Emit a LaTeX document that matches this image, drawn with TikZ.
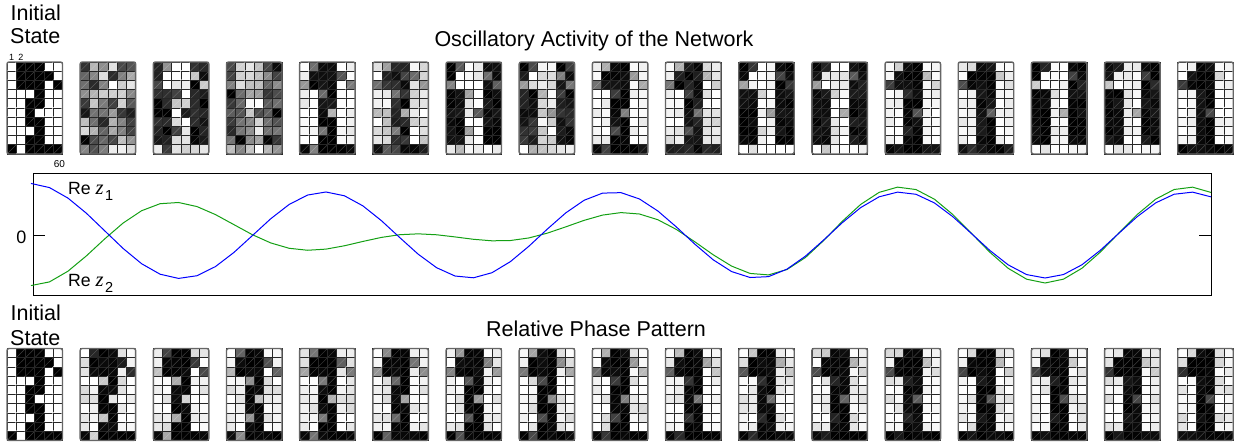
\documentclass[tikz,border=0pt]{standalone}
\usepackage{fontspec}
\setmainfont{Liberation Sans}
\newfontfamily\zfont{Liberation Serif}
\newcommand{\rez}[1]{Re\ {\zfont\itshape\fontsize{20.5}{20}\selectfont z}\hspace{1.5pt}\raisebox{-6pt}{\fontsize{14.5}{14}\selectfont #1}}
\def\initpat{{0,1,1,1,0,0,0,1,1,1,1,0,0,1,1,1,0,1,0,0,0,1,0,0,0,0,1,1,0,0,0,0,1,0,0,0,0,0,1,1,0,0,0,0,0,1,0,0,0,0,1,1,0,0,1,0,1,1,1,1}}
\def\goalpat{{0,0,1,1,0,0,0,1,1,1,0,0,1,1,1,1,0,0,0,0,1,1,0,0,0,0,1,1,0,0,0,0,1,1,0,0,0,0,1,1,0,0,0,0,1,1,0,0,0,0,1,1,0,0,1,1,1,1,1,1}}
\def\topgain{{1,-0.2,-0.85,-0.55,0.95,0.75,-0.95,-0.8,0.95,0.85,-0.95,-0.9,0.95,0.9,-0.95,-0.92,0.95}}
\def\topnoise{{0,0.9,0.3,0.5,0.15,0.3,0.15,0.3,0.12,0.2,0.12,0.15,0.1,0.12,0.1,0.12,0.1}}
\begin{document}
\begin{tikzpicture}[x=1pt, y=-1pt, >=stealth,
  declare function={hsh(\p,\q)=mod(abs(sin(\p*23.17+\q*71.9+13.1)*4375.853),1);},
  cell/.style={draw=black!85, line width=0.75pt},
  diag/.style={line width=0.45pt},
  frame/.style={draw=black!60, line width=1.4pt, rounded corners=2pt},
  lbl/.style={inner sep=0pt, font=\fontsize{21.5}{24}\selectfont},
  small/.style={inner sep=0pt, font=\fontsize{9}{9}\selectfont},
  zblue/.style={draw={rgb,255:red,0;green,0;blue,255}, line width=1pt},
  zgreen/.style={draw={rgb,255:red,20;green,160;blue,20}, line width=1pt}]
\useasboundingbox (0,0) rectangle (1242,444);

\node[lbl, anchor=base west] (init1) at (10.5,20.7) {Initial};
\node[lbl, anchor=base west] (state1) at (10,43.3) {State};
\node[lbl, anchor=base] (osc) at (594,47) {Oscillatory Activity of the Network};
\node[small, anchor=base] (one) at (11.6,60.5) {1};
\node[small, anchor=base] (two) at (21,60.5) {2};
\node[small, anchor=base, font=\fontsize{10}{10}\selectfont] (sixty) at (59.5,167) {60};

\foreach \k in {1,...,17}{
  \pgfmathsetmacro\px{7+(\k-1)*73.17}
  \pgfmathsetmacro\gn{\topgain[\k-1]}
  \pgfmathsetmacro\nz{\topnoise[\k-1]}
  \foreach \row in {0,...,9}
  \foreach \col in {0,...,5}{
    \pgfmathtruncatemacro\idx{6*\row+\col}
    \pgfmathsetmacro\val{\initpat[\idx]+(1-exp(-(\k-1)*(0.6+0.8*hsh(\idx,0))/7))*(\goalpat[\idx]-\initpat[\idx])}
    \pgfmathsetmacro\dt{100*min(1,max(0,0.5+\gn*(\val-0.5)+\nz*(hsh(\idx,\k)-0.5)))}
    \pgfmathsetmacro\db{100*min(1,max(0,\val+(0.5-\val)*(0.3-0.2*\val)*hsh(\idx,\k+20)^2*(\k>1)))}
    \pgfmathsetmacro\gt{0.75*\dt}
    \pgfmathsetmacro\gb{0.75*\db}
    \pgfmathsetmacro\cx{\px+\col*9.25}
    \filldraw[cell, fill=black!\dt] (\cx,62+\row*9.2) rectangle ++(9.25,9.2);
    \draw[diag, draw=black!\gt] (\cx,62+\row*9.2+9.2) -- ++(9.25,-9.2);
    \filldraw[cell, fill=black!\db] (\cx,348.5+\row*9.2) rectangle ++(9.25,9.2);
    \draw[diag, draw=black!\gb] (\cx,348.5+\row*9.2+9.2) -- ++(9.25,-9.2);
  }
  \draw[frame] (\px,62) rectangle ++(55.5,92);
  \draw[frame] (\px,348.5) rectangle ++(55.5,92);
}

\draw[line width=0.9pt] (33,173) rectangle (1211,295);
\draw[line width=0.9pt] (33,235) -- (45,235);
\draw[line width=0.9pt] (1211,235) -- (1199,235);
\node[lbl, anchor=base east, font=\fontsize{18}{18}\selectfont] (zero) at (26.5,243) {0};
\draw[zgreen] plot[domain=31:1211, samples=65] (\x, {235-min(48,-51+0.125*(\x-31))*cos(1.25*(\x-37))});
\draw[zblue] plot[domain=31:1211, samples=65] (\x, {235-(43+9*exp(-(\x-31)/50))*cos(1.25*(\x-37))});
\node[lbl, anchor=base west, font=\fontsize{17.7}{18}\selectfont] (rez1) at (68,194.3) {\rez{1}};
\node[lbl, anchor=base west, font=\fontsize{17.7}{18}\selectfont] (rez2) at (68,286.7) {\rez{2}};

\node[lbl, anchor=base west] (init2) at (10.5,320.7) {Initial};
\node[lbl, anchor=base west] (state2) at (10,345) {State};
\node[lbl, anchor=base] (phase) at (596,336) {Relative Phase Pattern};
\end{tikzpicture}
\end{document}
